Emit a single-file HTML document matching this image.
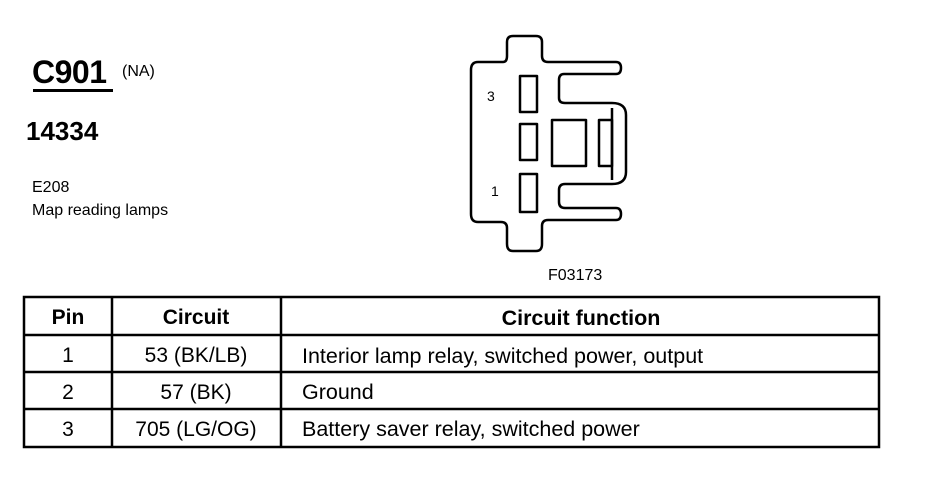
<!DOCTYPE html>
<html><head><meta charset="utf-8"><style>
html,body{margin:0;padding:0;background:#fff;}
body{width:926px;height:480px;position:relative;overflow:hidden;font-family:"Liberation Sans",Arial,sans-serif;color:#000;}
.t{position:absolute;white-space:nowrap;line-height:1;}
</style></head><body>
<div class="t" style="left:32px;top:56px;font-size:32px;font-weight:bold;letter-spacing:-0.5px;">C901</div>
<div class="t" style="left:122px;top:64px;font-size:16px;">(NA)</div>
<div style="position:absolute;left:33px;top:89px;width:80px;height:3px;background:#000;"></div>
<div class="t" style="left:26px;top:118px;font-size:26px;font-weight:bold;">14334</div>
<div class="t" style="left:32px;top:180px;font-size:16px;">E208</div>
<div class="t" style="left:32px;top:203px;font-size:16px;">Map reading lamps</div>
<div class="t" style="left:548px;top:268px;font-size:16px;">F03173</div>

<svg style="position:absolute;left:0;top:0" width="926" height="480">
<g fill="none" stroke="#000" stroke-width="2.5" stroke-linejoin="round">
<path d="M478 62 H503 Q507 62 507 56 V42 Q507 36 513 36 H536 Q542 36 542 42 V56 Q542 62 548 62 H616 Q621 62 621 68 Q621 74 616 74 H564 Q559 74 559 80 V98 Q559 103 565 103 H612 Q626 103 626 115 V172 Q626 184 612 184 H565 Q559 184 559 190 V202 Q559 208 565 208 H616 Q621 208 621 214 Q621 220 616 220 H548 Q542 220 542 226 V244 Q542 251 536 251 H513 Q507 251 507 244 V228 Q507 222 501 222 H478 Q471 222 471 214 V70 Q471 62 478 62 Z"/>
<rect x="520" y="76" width="17" height="36"/>
<rect x="520" y="124" width="17" height="36"/>
<rect x="520" y="174" width="17" height="38"/>
<rect x="552" y="120" width="34" height="46"/>
<rect x="599" y="120" width="13" height="46"/>
<path d="M612 108 V180"/>
</g>
<text x="487" y="101" font-family="Liberation Sans" font-size="14">3</text>
<text x="491" y="196" font-family="Liberation Sans" font-size="14">1</text>
<g stroke="#000" stroke-width="2.5" fill="none">
<rect x="24" y="297" width="855" height="150"/>
<line x1="24" y1="335" x2="879" y2="335"/>
<line x1="24" y1="372" x2="879" y2="372"/>
<line x1="24" y1="409" x2="879" y2="409"/>
<line x1="112" y1="297" x2="112" y2="447"/>
<line x1="281" y1="297" x2="281" y2="447"/>
</g>
<g font-family="Liberation Sans" font-size="21" text-anchor="middle">
<text x="68" y="324" font-weight="bold">Pin</text>
<text x="196" y="324" font-weight="bold">Circuit</text>
<text x="581" y="325" font-weight="bold" font-size="21.5">Circuit function</text>
<text x="68" y="362">1</text><text x="196" y="362">53 (BK/LB)</text>
<text x="68" y="399">2</text><text x="196" y="399">57 (BK)</text>
<text x="68" y="436">3</text><text x="196" y="436">705 (LG/OG)</text>
</g>
<g font-family="Liberation Sans" font-size="21.5">
<text x="302" y="363">Interior lamp relay, switched power, output</text>
<text x="302" y="399">Ground</text>
<text x="302" y="436">Battery saver relay, switched power</text>
</g>
</svg>
</body></html>
